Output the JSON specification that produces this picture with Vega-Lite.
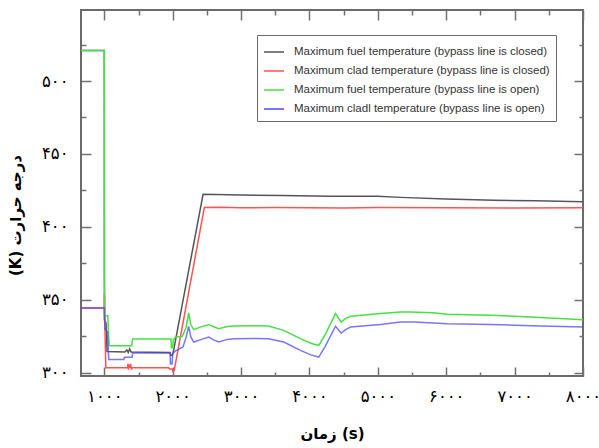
{
  "$schema": "https://vega.github.io/schema/vega-lite/v6.json",
  "width": 502,
  "height": 366,
  "autosize": {"type": "none"},
  "padding": {"left": 81, "top": 10, "right": 16, "bottom": 72},
  "background": "white",
  "config": {
    "locale": {
      "number": {
        "decimal": ".",
        "thousands": ",",
        "grouping": [3],
        "currency": ["", ""],
        "numerals": ["۰", "۱", "۲", "۳", "۴", "۵", "۶", "۷", "۸", "۹"]
      }
    },
    "view": {"stroke": "#6a6a6a", "strokeWidth": 2},
    "axis": {
      "domain": false,
      "grid": false,
      "tickColor": "#707070",
      "tickWidth": 1.5,
      "labelFont": "DejaVu Sans",
      "labelFontSize": 16.5,
      "labelColor": "#000000",
      "labelFlush": false,
      "labelOverlap": false,
      "titleFont": "DejaVu Sans",
      "titleFontWeight": "bold",
      "titleFontSize": 15,
      "titleColor": "#000000"
    }
  },
  "datasets": {
    "names": [
      {"k": "fc", "name": "Maximum fuel temperature (bypass line is closed)"},
      {"k": "cc", "name": "Maximum clad temperature (bypass line is closed)"},
      {"k": "fo", "name": "Maximum fuel temperature (bypass line is open)"},
      {"k": "co", "name": "Maximum cladl temperature (bypass line is open)"}
    ],
    "temps": [
      {"k": "fc", "t": 659, "T": 521}, {"k": "fc", "t": 1000, "T": 521}, {"k": "fc", "t": 1002, "T": 336},
      {"k": "fc", "t": 1025, "T": 334}, {"k": "fc", "t": 1040, "T": 314.5}, {"k": "fc", "t": 1300, "T": 314.2},
      {"k": "fc", "t": 1330, "T": 315.5}, {"k": "fc", "t": 1350, "T": 313.8}, {"k": "fc", "t": 1370, "T": 316.2},
      {"k": "fc", "t": 1390, "T": 314.2}, {"k": "fc", "t": 1960, "T": 313.8}, {"k": "fc", "t": 1972, "T": 311.9},
      {"k": "fc", "t": 1995, "T": 311.9}, {"k": "fc", "t": 2012, "T": 315}, {"k": "fc", "t": 2444, "T": 422.3},
      {"k": "fc", "t": 3000, "T": 421.8}, {"k": "fc", "t": 3600, "T": 421.5}, {"k": "fc", "t": 4300, "T": 421},
      {"k": "fc", "t": 5000, "T": 420.9}, {"k": "fc", "t": 5330, "T": 420.2}, {"k": "fc", "t": 6000, "T": 419},
      {"k": "fc", "t": 6700, "T": 418.3}, {"k": "fc", "t": 7300, "T": 417.8}, {"k": "fc", "t": 8000, "T": 417.2},

      {"k": "cc", "t": 659, "T": 344.3}, {"k": "cc", "t": 1000, "T": 344.3}, {"k": "cc", "t": 1003, "T": 354},
      {"k": "cc", "t": 1010, "T": 330}, {"k": "cc", "t": 1022, "T": 303.4}, {"k": "cc", "t": 1340, "T": 303.4},
      {"k": "cc", "t": 1345, "T": 306}, {"k": "cc", "t": 1352, "T": 302}, {"k": "cc", "t": 1360, "T": 305.5},
      {"k": "cc", "t": 1372, "T": 303.4}, {"k": "cc", "t": 1385, "T": 306}, {"k": "cc", "t": 1395, "T": 302},
      {"k": "cc", "t": 1405, "T": 303.4}, {"k": "cc", "t": 1940, "T": 303.4}, {"k": "cc", "t": 1955, "T": 302.5},
      {"k": "cc", "t": 1995, "T": 302.5}, {"k": "cc", "t": 2005, "T": 300.8}, {"k": "cc", "t": 2022, "T": 301.6},
      {"k": "cc", "t": 2463, "T": 413.2}, {"k": "cc", "t": 2700, "T": 413.4}, {"k": "cc", "t": 3000, "T": 413},
      {"k": "cc", "t": 3500, "T": 413.3}, {"k": "cc", "t": 4000, "T": 413.1}, {"k": "cc", "t": 4500, "T": 412.9},
      {"k": "cc", "t": 5000, "T": 413.2}, {"k": "cc", "t": 6000, "T": 413}, {"k": "cc", "t": 7000, "T": 412.9},
      {"k": "cc", "t": 8000, "T": 413},

      {"k": "fo", "t": 659, "T": 521}, {"k": "fo", "t": 1000, "T": 521}, {"k": "fo", "t": 1002, "T": 339},
      {"k": "fo", "t": 1050, "T": 339}, {"k": "fo", "t": 1070, "T": 318.5}, {"k": "fo", "t": 1400, "T": 318.5},
      {"k": "fo", "t": 1415, "T": 323}, {"k": "fo", "t": 1975, "T": 323}, {"k": "fo", "t": 1982, "T": 317},
      {"k": "fo", "t": 1998, "T": 317}, {"k": "fo", "t": 2010, "T": 322.6}, {"k": "fo", "t": 2040, "T": 324.4},
      {"k": "fo", "t": 2140, "T": 324.8}, {"k": "fo", "t": 2195, "T": 331}, {"k": "fo", "t": 2234, "T": 340.9},
      {"k": "fo", "t": 2265, "T": 333}, {"k": "fo", "t": 2307, "T": 329.5}, {"k": "fo", "t": 2400, "T": 331.2},
      {"k": "fo", "t": 2526, "T": 332.9}, {"k": "fo", "t": 2600, "T": 331.5}, {"k": "fo", "t": 2673, "T": 330.2},
      {"k": "fo", "t": 2800, "T": 331.6}, {"k": "fo", "t": 2900, "T": 332}, {"k": "fo", "t": 3200, "T": 332.2},
      {"k": "fo", "t": 3400, "T": 332}, {"k": "fo", "t": 3624, "T": 329}, {"k": "fo", "t": 3868, "T": 323.3},
      {"k": "fo", "t": 4030, "T": 320}, {"k": "fo", "t": 4136, "T": 318.7}, {"k": "fo", "t": 4230, "T": 326},
      {"k": "fo", "t": 4381, "T": 340.5}, {"k": "fo", "t": 4464, "T": 334.7}, {"k": "fo", "t": 4530, "T": 337.2},
      {"k": "fo", "t": 4600, "T": 338.6}, {"k": "fo", "t": 5039, "T": 340.5}, {"k": "fo", "t": 5330, "T": 341.6},
      {"k": "fo", "t": 5478, "T": 341.6}, {"k": "fo", "t": 5800, "T": 341}, {"k": "fo", "t": 6015, "T": 340},
      {"k": "fo", "t": 6649, "T": 339.3}, {"k": "fo", "t": 7235, "T": 338.2}, {"k": "fo", "t": 8000, "T": 336.3},

      {"k": "co", "t": 659, "T": 344.3}, {"k": "co", "t": 1000, "T": 344.3}, {"k": "co", "t": 1008, "T": 330},
      {"k": "co", "t": 1045, "T": 328}, {"k": "co", "t": 1065, "T": 309}, {"k": "co", "t": 1285, "T": 309},
      {"k": "co", "t": 1295, "T": 310.5}, {"k": "co", "t": 1405, "T": 310.5}, {"k": "co", "t": 1415, "T": 313.5},
      {"k": "co", "t": 1960, "T": 313.5}, {"k": "co", "t": 1968, "T": 306}, {"k": "co", "t": 1990, "T": 306},
      {"k": "co", "t": 2000, "T": 313}, {"k": "co", "t": 2037, "T": 314.8}, {"k": "co", "t": 2150, "T": 317.6},
      {"k": "co", "t": 2195, "T": 324}, {"k": "co", "t": 2234, "T": 331.8}, {"k": "co", "t": 2265, "T": 324.5},
      {"k": "co", "t": 2307, "T": 321}, {"k": "co", "t": 2400, "T": 322.5}, {"k": "co", "t": 2526, "T": 324.4},
      {"k": "co", "t": 2600, "T": 322.5}, {"k": "co", "t": 2673, "T": 321}, {"k": "co", "t": 2800, "T": 322.8},
      {"k": "co", "t": 2900, "T": 323.3}, {"k": "co", "t": 3200, "T": 323.5}, {"k": "co", "t": 3400, "T": 323.3},
      {"k": "co", "t": 3624, "T": 321}, {"k": "co", "t": 3868, "T": 315.3}, {"k": "co", "t": 4030, "T": 312},
      {"k": "co", "t": 4136, "T": 310.7}, {"k": "co", "t": 4230, "T": 318}, {"k": "co", "t": 4381, "T": 331.8},
      {"k": "co", "t": 4464, "T": 327.2}, {"k": "co", "t": 4530, "T": 329.5}, {"k": "co", "t": 4600, "T": 331.3},
      {"k": "co", "t": 5039, "T": 333.1}, {"k": "co", "t": 5330, "T": 334.7}, {"k": "co", "t": 5530, "T": 334.7},
      {"k": "co", "t": 6015, "T": 333.6}, {"k": "co", "t": 6649, "T": 333.1}, {"k": "co", "t": 7235, "T": 332.2},
      {"k": "co", "t": 8000, "T": 331.3}
    ]
  },
  "data": {"name": "temps"},
  "transform": [
    {"lookup": "k", "from": {"data": {"name": "names"}, "key": "k", "fields": ["name"]}}
  ],
  "layer": [
    {
      "mark": {"type": "line", "strokeWidth": 1.5, "clip": true},
      "encoding": {
        "x": {
          "field": "t", "type": "quantitative",
          "scale": {"domain": [659, 8000], "nice": false, "zero": false},
          "axis": {
            "orient": "bottom", "values": [1000, 2000, 3000, 4000, 5000, 6000, 7000, 8000],
            "format": "d", "tickSize": -9, "labelPadding": 21,
            "title": "زمان (s)", "titlePadding": 22
          }
        },
        "y": {
          "field": "T", "type": "quantitative",
          "scale": {"domain": [297.7, 548.7], "nice": false, "zero": false},
          "axis": {
            "orient": "left", "values": [300, 350, 400, 450, 500],
            "format": "d", "tickSize": -10, "labelPadding": 23,
            "title": "(K) درجه حرارت", "titlePadding": 18, "titleY": 205
          }
        },
        "color": {
          "field": "name", "type": "nominal",
          "scale": {
            "domain": [
              "Maximum fuel temperature (bypass line is closed)",
              "Maximum clad temperature (bypass line is closed)",
              "Maximum fuel temperature (bypass line is open)",
              "Maximum cladl temperature (bypass line is open)"
            ],
            "range": ["#555555", "#ff5252", "#44e044", "#4848ff"]
          },
          "legend": {
            "title": null,
            "orient": "none",
            "legendX": 176,
            "legendY": 25,
            "fillColor": "white",
            "strokeColor": "#6a6a6a",
            "padding": 6,
            "symbolType": "stroke",
            "symbolSize": 400,
            "symbolStrokeWidth": 1.5,
            "labelFont": "Liberation Sans",
            "labelFontSize": 11.5,
            "labelColor": "#333333",
            "labelLimit": 400,
            "labelOffset": 9,
            "rowPadding": 2
          }
        },
        "opacity": {"condition": {"test": "datum.k === 'co'", "value": 0.75}, "value": 1}
      }
    },
    {
      "mark": {"type": "point", "opacity": 0},
      "encoding": {
        "x": {
          "field": "t", "type": "quantitative",
          "scale": {"domain": [659, 8000], "nice": false, "zero": false},
          "axis": {"orient": "top", "values": [1000, 2000, 3000, 4000, 5000, 6000, 7000, 8000], "tickSize": -10, "labels": false, "title": null}
        },
        "y": {
          "field": "T", "type": "quantitative",
          "scale": {"domain": [297.7, 548.7], "nice": false, "zero": false},
          "axis": {"orient": "right", "values": [300, 350, 400, 450, 500], "tickSize": -9, "labels": false, "title": null}
        }
      }
    },
    {
      "mark": {"type": "point", "opacity": 0},
      "encoding": {
        "x": {
          "field": "t", "type": "quantitative",
          "scale": {"domain": [659, 8000], "nice": false, "zero": false},
          "axis": {"orient": "bottom", "values": [1500, 2500, 3500, 4500, 5500, 6500, 7500], "tickSize": -4, "labels": false, "title": null}
        },
        "y": {
          "field": "T", "type": "quantitative",
          "scale": {"domain": [297.7, 548.7], "nice": false, "zero": false},
          "axis": {"orient": "left", "values": [325, 375, 425, 475, 525], "tickSize": -5, "labels": false, "title": null}
        }
      }
    },
    {
      "mark": {"type": "point", "opacity": 0},
      "encoding": {
        "x": {
          "field": "t", "type": "quantitative",
          "scale": {"domain": [659, 8000], "nice": false, "zero": false},
          "axis": {"orient": "top", "values": [1500, 2500, 3500, 4500, 5500, 6500, 7500], "tickSize": -5, "labels": false, "title": null}
        },
        "y": {
          "field": "T", "type": "quantitative",
          "scale": {"domain": [297.7, 548.7], "nice": false, "zero": false},
          "axis": {"orient": "right", "values": [325, 375, 425, 475, 525], "tickSize": -4, "labels": false, "title": null}
        }
      }
    }
  ],
  "resolve": {"axis": {"x": "independent", "y": "independent"}}
}
